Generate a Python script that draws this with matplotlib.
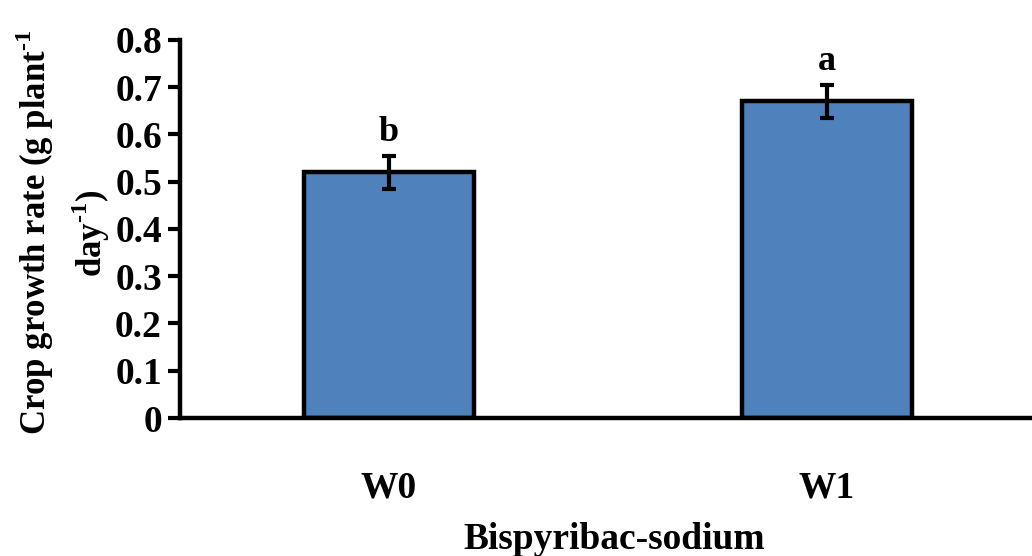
import matplotlib
matplotlib.use("Agg")
import matplotlib.pyplot as plt

treatments = ["W0", "W1"]
growth_rate = [0.52, 0.67]
std_err = [0.035, 0.035]
letters = ["b", "a"]

plt.rcParams["font.family"] = ["Liberation Serif", "DejaVu Serif"]
plt.rcParams["font.weight"] = "bold"
plt.rcParams["mathtext.fontset"] = "custom"
plt.rcParams["mathtext.rm"] = "Liberation Serif:bold"
plt.rcParams["mathtext.bf"] = "Liberation Serif:bold"

fig = plt.figure(figsize=(10.32, 5.56), dpi=100)
ax = fig.add_axes([0.1744, 0.2482, 0.8256, 0.6799])

x = range(len(treatments))
ax.bar(x, growth_rate, width=0.39, color="#4F81BD", edgecolor="black", linewidth=3.2, zorder=2)
ax.errorbar(x, growth_rate, yerr=std_err, fmt="none", ecolor="black",
            elinewidth=3, capsize=5, capthick=3, zorder=3)

# significance letters above the error bars
for i, (v, e, l) in enumerate(zip(growth_rate, std_err, letters)):
    ax.text(i, v + e + 0.015, l, ha="center", va="bottom", fontsize=26, fontweight="bold")

ax.set_xlim(-0.477, 1.468)
ax.set_ylim(0, 0.8)
ax.set_yticks([0, 0.1, 0.2, 0.3, 0.4, 0.5, 0.6, 0.7, 0.8])
ax.set_yticklabels(["0", "0.1", "0.2", "0.3", "0.4", "0.5", "0.6", "0.7", "0.8"])
ax.set_xticks(list(x))
ax.set_xticklabels(treatments)

for s in ["top", "right"]:
    ax.spines[s].set_visible(False)
for s in ["left", "bottom"]:
    ax.spines[s].set_linewidth(3.2)

ax.tick_params(axis="y", direction="out", length=9, width=3, labelsize=27, pad=4)
ax.tick_params(axis="x", length=0, labelsize=27, pad=38)

ax.set_ylabel("Crop growth rate (g plant$^{\\text{-1}}$\nday$^{\\text{-1}}$)", fontsize=25,
              fontweight="bold", linespacing=1.4)
ax.yaxis.set_label_coords(-0.08, 0.49)
ax.set_xlabel("Bispyribac-sodium", fontsize=27, fontweight="bold")
ax.xaxis.set_label_coords(0.51, -0.275)

fig.savefig("out.png", dpi=100)
